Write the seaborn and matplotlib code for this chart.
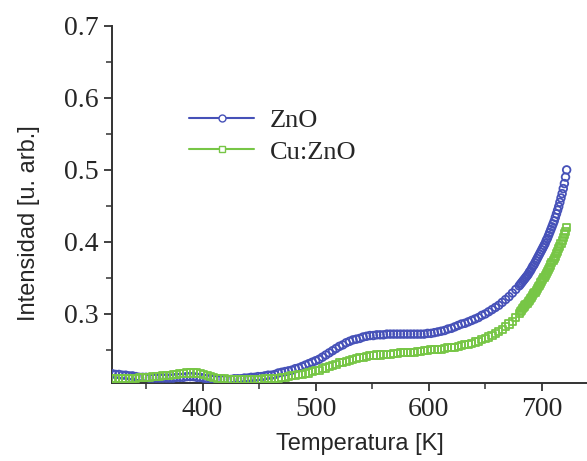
import matplotlib
matplotlib.use("Agg")
import matplotlib.pyplot as plt
import seaborn as sns
import pandas as pd
from matplotlib.lines import Line2D
from matplotlib.ticker import MultipleLocator

# Temperatures [K]: every 3 K up to 680 K, then every 1 K to the end
temp = list(range(320, 681, 3)) + list(range(681, 723))

# Intensities
zno = [0.217, 0.216, 0.216, 0.215, 0.215, 0.214, 0.214, 0.213, 0.212, 0.212,
       0.212, 0.211, 0.211, 0.211, 0.211, 0.211, 0.211, 0.211, 0.211, 0.212,
       0.212, 0.212, 0.213, 0.213, 0.213, 0.212, 0.212, 0.211, 0.210, 0.210,
       0.209, 0.209, 0.209, 0.209, 0.209, 0.209, 0.210, 0.210, 0.210, 0.211,
       0.211, 0.212, 0.212, 0.213, 0.213, 0.214, 0.215, 0.215, 0.216, 0.218,
       0.219, 0.220, 0.221, 0.222, 0.224, 0.225, 0.227, 0.229, 0.231, 0.233,
       0.235, 0.237, 0.240, 0.243, 0.246, 0.249, 0.252, 0.255, 0.257, 0.260,
       0.262, 0.264, 0.265, 0.266, 0.268, 0.269, 0.270, 0.270, 0.271, 0.271,
       0.271, 0.272, 0.272, 0.272, 0.272, 0.272, 0.272, 0.272, 0.272, 0.272,
       0.272, 0.272, 0.272, 0.273, 0.273, 0.274, 0.275, 0.276, 0.277, 0.279,
       0.280, 0.282, 0.284, 0.286, 0.287, 0.289, 0.291, 0.293, 0.295, 0.298,
       0.300, 0.303, 0.306, 0.309, 0.312, 0.316, 0.320, 0.324, 0.329, 0.334,
       0.339,
       0.341, 0.343, 0.345, 0.347, 0.349, 0.351, 0.353, 0.355, 0.358, 0.360,
       0.363, 0.366, 0.368, 0.371, 0.374, 0.377, 0.380, 0.383, 0.386, 0.389,
       0.392, 0.395, 0.398, 0.402, 0.405, 0.409, 0.413, 0.417, 0.421, 0.425,
       0.429, 0.434, 0.439, 0.444, 0.449, 0.455, 0.461, 0.467, 0.474, 0.481,
       0.490, 0.500]

cuzno = [0.210, 0.210, 0.210, 0.210, 0.211, 0.211, 0.211, 0.211, 0.212, 0.212,
         0.212, 0.212, 0.213, 0.213, 0.213, 0.214, 0.214, 0.215, 0.216, 0.216,
         0.217, 0.217, 0.218, 0.218, 0.218, 0.218, 0.217, 0.216, 0.215, 0.213,
         0.212, 0.211, 0.210, 0.210, 0.209, 0.209, 0.209, 0.209, 0.209, 0.209,
         0.209, 0.209, 0.209, 0.209, 0.209, 0.210, 0.210, 0.210, 0.211, 0.211,
         0.212, 0.212, 0.213, 0.214, 0.215, 0.216, 0.216, 0.217, 0.218, 0.220,
         0.221, 0.222, 0.224, 0.225, 0.227, 0.228, 0.230, 0.232, 0.233, 0.234,
         0.235, 0.237, 0.238, 0.239, 0.240, 0.241, 0.242, 0.242, 0.243, 0.243,
         0.244, 0.244, 0.244, 0.245, 0.245, 0.246, 0.246, 0.246, 0.247, 0.247,
         0.248, 0.248, 0.249, 0.249, 0.250, 0.250, 0.251, 0.251, 0.252, 0.253,
         0.254, 0.254, 0.255, 0.256, 0.257, 0.258, 0.259, 0.261, 0.262, 0.264,
         0.266, 0.268, 0.270, 0.273, 0.275, 0.278, 0.282, 0.286, 0.290, 0.295,
         0.301,
         0.303, 0.305, 0.307, 0.309, 0.311, 0.313, 0.315, 0.317, 0.319, 0.321,
         0.323, 0.326, 0.328, 0.330, 0.333, 0.335, 0.338, 0.340, 0.343, 0.345,
         0.348, 0.350, 0.353, 0.356, 0.359, 0.362, 0.365, 0.368, 0.371, 0.374,
         0.377, 0.380, 0.384, 0.387, 0.391, 0.394, 0.398, 0.402, 0.406, 0.411,
         0.415, 0.420]

blue = "#4651b8"
green = "#77c646"

df = pd.DataFrame({"T": temp, "ZnO": zno, "Cu:ZnO": cuzno})

sns.set_style("ticks")
plt.rcParams["font.family"] = ["Liberation Serif", "DejaVu Serif"]

fig = plt.figure(figsize=(5.87, 4.61), dpi=100)
ax = fig.add_axes([0.191, 0.169, 0.809, 0.775])

sns.scatterplot(data=df, x="T", y="ZnO", ax=ax, marker="o", s=30,
                facecolors="none", edgecolor=blue, linewidth=1.3, zorder=3)
sns.scatterplot(data=df, x="T", y="Cu:ZnO", ax=ax, marker="s", s=26,
                facecolors="none", edgecolor=green, linewidth=1.3, zorder=4)

ax.set_xlim(320, 740)
ax.set_ylim(0.204, 0.7)
ax.set_xticks([400, 500, 600, 700])
ax.set_yticks([0.3, 0.4, 0.5, 0.6, 0.7])
ax.xaxis.set_minor_locator(MultipleLocator(50))
ax.yaxis.set_minor_locator(MultipleLocator(0.05))
ax.tick_params(which="major", direction="out", length=6, width=1.3,
               color="#333333", labelsize=20, pad=4)
ax.tick_params(which="minor", direction="out", length=4, width=1.1,
               color="#333333")

sns.despine(ax=ax)
for side in ["left", "bottom"]:
    ax.spines[side].set_color("#333333")
    ax.spines[side].set_linewidth(1.4)

ax.set_xlabel("Temperatura [K]", family="Liberation Sans", fontsize=17)
ax.set_ylabel("Intensidad [u. arb.]", family="Liberation Sans", fontsize=17)
ax.xaxis.set_label_coords(0.522, -0.14)
ax.yaxis.set_label_coords(-0.152, 0.448)

handles = [
    Line2D([], [], color=blue, marker="o", markersize=5, markerfacecolor="white",
           markeredgecolor=blue, lw=1.5),
    Line2D([], [], color=green, marker="s", markersize=5, markerfacecolor="white",
           markeredgecolor=green, lw=1.5),
]
ax.legend(handles, ["ZnO", "Cu:ZnO"], loc="upper left",
          bbox_to_anchor=(0.135, 0.805), frameon=False, fontsize=19,
          handlelength=2.45, handletextpad=0.6, labelspacing=0.3, borderpad=0)

fig.savefig("out.png", dpi=100)
